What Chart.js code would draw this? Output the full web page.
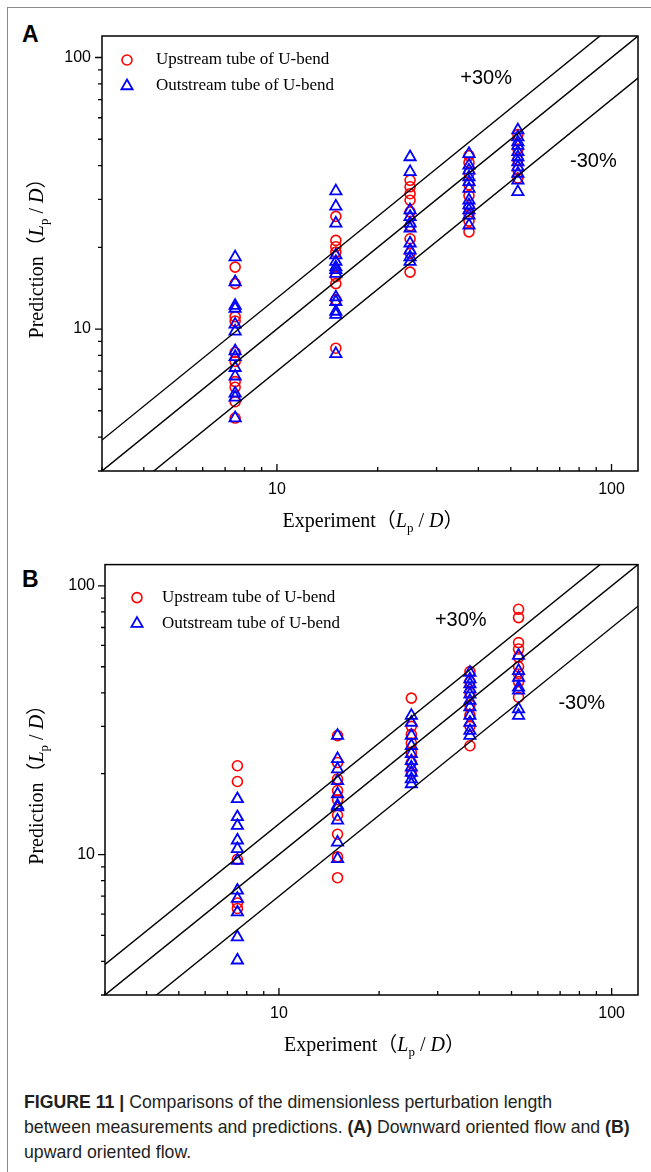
<!DOCTYPE html>
<html>
<head>
<meta charset="utf-8">
<script src="https://cdn.jsdelivr.net/npm/chart.js@4.4.1/dist/chart.umd.min.js"></script>
<style>
    body { margin: 0; background: #fff; }
    #page { position: relative; width: 651px; height: 1172px; overflow: hidden; background: #fff; }
    #frame { position: absolute; left: 7px; top: 7px; width: 660px; height: 1180px;
             border-left: 1.5px solid #8a8a8a; border-top: 1.5px solid #8a8a8a; }
    canvas { position: absolute; left: 0; }
    .tag { position: absolute; left: 22px; font: bold 23px/23px "Liberation Sans", Arial, sans-serif; color: #000; }
    .caption { position: absolute; left: 24px; top: 1090px; width: 620px;
               font: 17.7px/25px "Liberation Sans", Arial, sans-serif; color: #231f20; white-space: nowrap; }
</style>
</head>
<body>
<div id="page">
    <div id="frame"></div>
    <div class="tag" style="top:23px">A</div>
    <canvas id="panelA" width="651" height="545" style="top:0"></canvas>
    <div class="tag" style="top:568px">B</div>
    <canvas id="panelB" width="651" height="530" style="top:545px"></canvas>
    <div class="caption"><b>FIGURE 11 |</b> Comparisons of the dimensionless perturbation length<br>between measurements and predictions. <b>(A)</b> Downward oriented flow and <b>(B)</b><br>upward oriented flow.</div>
</div>
<script>
// experimental L_p/D of each measured case (x) and predicted values per case (y)
var experimentGroups = [7.5, 15, 25, 37.5, 52.5];

var upstreamA = [
    [16.9, 14.7, 11.1, 10.7, 8.2, 7.6, 6.4, 6.1, 5.4, 4.7],
    [26.0, 21.2, 20.1, 19.2, 15.6, 14.7, 12.8, 8.5],
    [35.3, 33.4, 31.5, 29.8, 27.0, 24.0, 21.5, 19.0, 16.2],
    [43.5, 41.0, 37.5, 34.0, 31.0, 28.0, 26.5, 25.0, 22.8],
    [52.0, 46.0, 42.0, 38.5, 36.0]
];
var outstreamA = [
    [18.4, 14.9, 12.2, 11.9, 10.4, 9.8, 8.3, 7.9, 7.2, 6.7, 5.8, 5.6, 4.7],
    [32.2, 28.3, 24.5, 18.7, 17.7, 16.9, 16.5, 16.0, 13.1, 12.6, 11.6, 11.3, 8.1],
    [43.0, 37.9, 27.4, 25.9, 24.5, 23.5, 20.7, 19.5, 18.4, 17.7],
    [44.2, 40.1, 38.4, 36.3, 34.8, 32.9, 29.8, 28.6, 27.4, 26.2, 24.1],
    [54.0, 50.9, 48.8, 47.4, 44.9, 43.0, 41.2, 39.5, 37.4, 35.3, 32.0]
];

var upstreamB = [
    [21.4, 18.7, 9.6, 6.6, 6.3],
    [27.7, 22.0, 19.1, 17.3, 16.0, 14.0, 11.9, 9.8, 8.2],
    [38.2, 30.0, 28.0, 26.0, 24.0, 22.0, 20.0],
    [48.0, 44.0, 40.0, 36.0, 33.0, 30.0, 25.4],
    [81.8, 76.2, 61.5, 58.2, 54.2, 50.0, 47.0, 44.0, 38.5]
];
var outstreamB = [
    [16.1, 13.8, 12.8, 11.3, 10.5, 9.5, 7.35, 6.85, 6.1, 4.93, 4.04],
    [27.7, 22.7, 20.8, 18.8, 16.8, 15.2, 15.0, 13.4, 11.1, 9.64],
    [32.9, 31.0, 27.7, 25.4, 23.7, 22.3, 21.1, 20.2, 19.1, 18.3],
    [47.6, 45.0, 43.1, 41.3, 39.5, 37.4, 35.4, 32.9, 31.0, 28.9, 27.7],
    [55.0, 48.3, 45.6, 41.9, 40.8, 34.8, 32.9]
];

// reference lines y = x and the ±30 % band
var guideX = [3, 120];
var parityY = [3, 120];
var plus30Y = [3.9, 156];
var minus30Y = [2.1, 84];

var axisMin = 3, axisMax = 120;
var tickValues = [3, 4, 5, 6, 7, 8, 9, 10, 20, 30, 40, 50, 60, 70, 80, 90, 100];
var labeledTicks = [10, 100];
var seriesNames = ['Upstream tube of U-bend', 'Outstream tube of U-bend'];

var RED = '#ff0000', BLUE = '#0000ff';
var SANS = '"Liberation Sans", Arial, sans-serif';
var SERIF = '"Liberation Serif", "Times New Roman", "Noto Sans CJK SC", serif';

function toPoints(groups) {
    var pts = [];
    groups.forEach(function (col, i) {
        col.forEach(function (v) { pts.push({x: experimentGroups[i], y: v}); });
    });
    return pts;
}

function linePoints(ys) {
    return guideX.map(function (x, i) { return {x: x, y: ys[i]}; });
}

function guide(ys) {
    return {
        data: linePoints(ys), showLine: true, pointRadius: 0,
        borderColor: '#000', borderWidth: 1.4, fill: false
    };
}

function titleParts(word) {
    return [
        {t: word, f: '20px ' + SERIF},
        {t: '（', f: '20px ' + SERIF},
        {t: 'L', f: 'italic 20px ' + SERIF},
        {t: 'p', f: '13px ' + SERIF, dy: 5},
        {t: ' / ', f: '20px ' + SERIF},
        {t: 'D', f: 'italic 20px ' + SERIF},
        {t: '）', f: '20px ' + SERIF}
    ];
}

function drawRich(ctx, parts, cx, baseline) {
    var total = 0;
    parts.forEach(function (p) { ctx.font = p.f; total += ctx.measureText(p.t).width; });
    var x = cx - total / 2;
    ctx.textAlign = 'left';
    ctx.textBaseline = 'alphabetic';
    parts.forEach(function (p) {
        ctx.font = p.f;
        ctx.fillText(p.t, x, baseline + (p.dy || 0));
        x += ctx.measureText(p.t).width;
    });
}

function panelExtras(cfg) {
    return {
        id: 'panelExtras',
        afterDraw: function (chart) {
            var ctx = chart.ctx, a = chart.chartArea, sx = chart.scales.x, sy = chart.scales.y;
            ctx.save();
            ctx.strokeStyle = '#000';
            ctx.fillStyle = '#000';

            // box around the plot
            ctx.lineWidth = 1.5;
            ctx.strokeRect(a.left, a.top, a.right - a.left, a.bottom - a.top);

            // x ticks point into the plot, y ticks point out
            ctx.lineWidth = 1.3;
            ctx.beginPath();
            tickValues.forEach(function (v) {
                var len = labeledTicks.indexOf(v) >= 0 ? 7 : 4;
                var px = sx.getPixelForValue(v), py = sy.getPixelForValue(v);
                ctx.moveTo(px, a.bottom); ctx.lineTo(px, a.bottom - len);
                ctx.moveTo(a.left, py); ctx.lineTo(a.left - len, py);
            });
            ctx.stroke();

            // legend
            var mx = a.left + cfg.legend.dx, r1 = a.top + cfg.legend.dy, r2 = r1 + 26;
            ctx.lineWidth = 1.6;
            ctx.strokeStyle = RED;
            ctx.beginPath();
            ctx.arc(mx, r1, 5, 0, Math.PI * 2);
            ctx.stroke();
            ctx.strokeStyle = BLUE;
            ctx.lineWidth = 1.8;
            ctx.beginPath();
            ctx.moveTo(mx, r2 - 6.5);
            ctx.lineTo(mx + 5.6, r2 + 3.25);
            ctx.lineTo(mx - 5.6, r2 + 3.25);
            ctx.closePath();
            ctx.stroke();
            ctx.font = '17px ' + SERIF;
            ctx.textAlign = 'left';
            ctx.textBaseline = 'middle';
            ctx.fillText(seriesNames[0], a.left + cfg.legend.tx, r1);
            ctx.fillText(seriesNames[1], a.left + cfg.legend.tx, r2);

            // band labels
            ctx.font = '20px ' + SANS;
            ctx.textAlign = 'center';
            cfg.notes.forEach(function (n) {
                ctx.fillText(n.text, sx.getPixelForValue(n.x), sy.getPixelForValue(n.y));
            });

            // axis titles
            drawRich(ctx, titleParts('Experiment'), (a.left + a.right) / 2 + 3, a.bottom + 56);
            ctx.save();
            ctx.translate(43, (a.top + a.bottom) / 2);
            ctx.rotate(-Math.PI / 2);
            drawRich(ctx, titleParts('Prediction'), 0, 0);
            ctx.restore();

            ctx.restore();
        }
    };
}

function makePanel(canvasId, upstream, outstream, cfg) {
    var canvas = document.getElementById(canvasId);
    var H = canvas.height, W = canvas.width;
    var tickFont = {family: SANS, size: 16};
    function logAxis(extra) {
        var axis = {
            type: 'logarithmic', min: axisMin, max: axisMax,
            grid: {display: false, drawTicks: false},
            border: {display: false},
            afterBuildTicks: function (s) {
                s.ticks = tickValues.map(function (v) { return {value: v}; });
            },
            ticks: {
                autoSkip: false, maxRotation: 0, color: '#000', font: tickFont,
                callback: function (v) { return labeledTicks.indexOf(v) >= 0 ? String(v) : ''; }
            }
        };
        Object.keys(extra).forEach(function (k) {
            if (k === 'ticks') Object.assign(axis.ticks, extra.ticks); else axis[k] = extra[k];
        });
        return axis;
    }
    return new Chart(canvas, {
        type: 'scatter',
        data: {
            datasets: [
                guide(parityY),
                guide(plus30Y),
                guide(minus30Y),
                {
                    label: seriesNames[1], data: toPoints(outstream),
                    pointStyle: 'triangle', pointRadius: 6.5, pointBorderWidth: 1.8,
                    pointBorderColor: BLUE, pointBackgroundColor: 'rgba(0,0,0,0)'
                },
                {
                    label: seriesNames[0], data: toPoints(upstream),
                    pointStyle: 'circle', pointRadius: 5, pointBorderWidth: 1.6,
                    pointBorderColor: RED, pointBackgroundColor: 'rgba(0,0,0,0)'
                }
            ]
        },
        options: {
            responsive: false, animation: false, devicePixelRatio: 1, events: [],
            layout: {padding: {left: 0, top: cfg.box.top, right: W - cfg.box.right, bottom: 0}},
            plugins: {legend: {display: false}, tooltip: {enabled: false}},
            scales: {
                x: logAxis({
                    position: 'bottom',
                    ticks: {padding: 9},
                    afterFit: function (s) { s.height = H - cfg.box.bottom; }
                }),
                y: logAxis({
                    position: 'left',
                    ticks: {padding: cfg.yPad},
                    afterFit: function (s) { s.width = cfg.box.left; }
                })
            }
        },
        plugins: [panelExtras(cfg)]
    });
}

makePanel('panelA', upstreamA, outstreamA, {
    box: {left: 102, right: 638, top: 36, bottom: 471},
    yPad: 11,
    legend: {dx: 25, dy: 24, tx: 54},
    notes: [{text: '+30%', x: 42.2, y: 83.9}, {text: '-30%', x: 88.3, y: 41.4}]
});

makePanel('panelB', upstreamB, outstreamB, {
    box: {left: 105, right: 638, top: 19, bottom: 450},
    yPad: 10,
    legend: {dx: 32, dy: 33, tx: 57},
    notes: [{text: '+30%', x: 35.2, y: 74.5}, {text: '-30%', x: 81.3, y: 36.6}]
});
</script>
</body>
</html>
